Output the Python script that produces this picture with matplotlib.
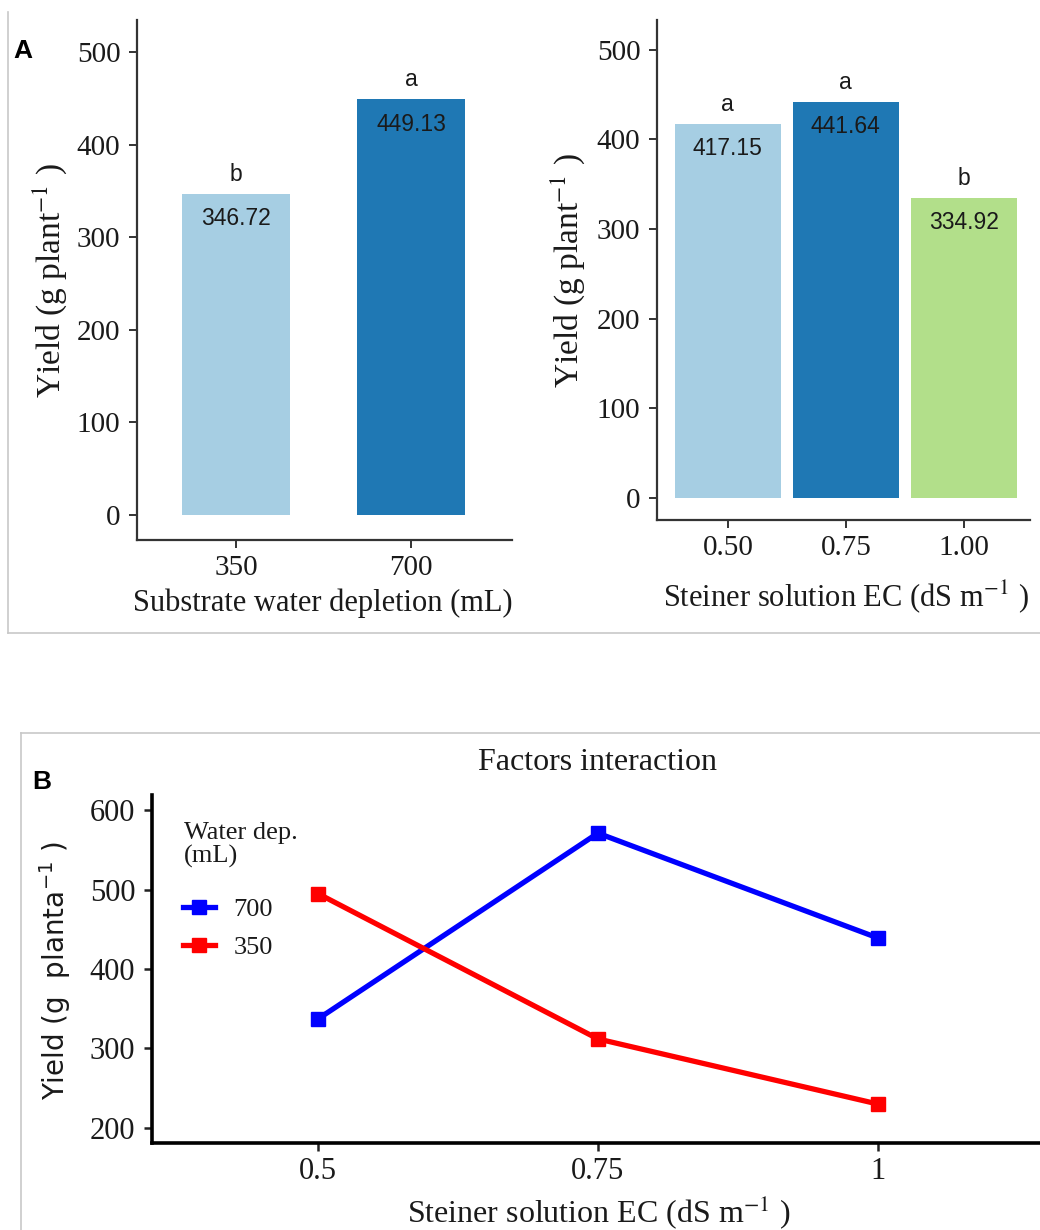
import matplotlib
matplotlib.use("Agg")
import matplotlib.pyplot as plt
from matplotlib.lines import Line2D
import numpy as np

# ---------------- data ----------------
water_cats = ["350", "700"]
water_yield = [346.72, 449.13]
water_letters = ["b", "a"]

ec_cats = ["0.50", "0.75", "1.00"]
ec_yield = [417.15, 441.64, 334.92]
ec_letters = ["a", "a", "b"]

inter_ec = [0.5, 0.75, 1.0]
inter_ec_labels = ["0.5", "0.75", "1"]
inter_700 = [337, 571, 439]
inter_350 = [495, 312, 230]

# ---------------- figure ----------------
W, H = 1040, 1230
fig = plt.figure(figsize=(W / 100, H / 100), dpi=100)
fig.patch.set_facecolor("white")

SERIF = "Liberation Serif"
SANS = "Liberation Sans"


def rect(l, t, r, b):
    return [l / W, 1 - b / H, (r - l) / W, (b - t) / H]


def fx(x):
    return x / W


def fy(y):
    return 1 - y / H


# panel borders (light gray)
gray = "#c8c8c8"
fig.add_artist(Line2D([fx(8), fx(8)], [fy(12), fy(633)], color=gray, lw=1.2))
fig.add_artist(Line2D([fx(8), fx(1040)], [fy(633), fy(633)], color=gray, lw=1.2))
fig.add_artist(Line2D([fx(21), fx(21)], [fy(733), fy(1230)], color=gray, lw=1.2))
fig.add_artist(Line2D([fx(21), fx(1040)], [fy(733), fy(733)], color=gray, lw=1.2))

bar_colors = ["#a6cee3", "#1f78b4", "#b2df8a"]


def style_bar_axes(ax):
    for s in ["top", "right"]:
        ax.spines[s].set_visible(False)
    for s in ["left", "bottom"]:
        ax.spines[s].set_color("#333333")
        ax.spines[s].set_linewidth(1.6)
    ax.tick_params(axis="both", direction="out", length=6, width=1.4, color="#333333",
                   labelsize=21, labelcolor="#1a1a1a")
    ax.tick_params(axis="y", pad=6)
    ax.tick_params(axis="x", pad=5)
    ax.set_yticks([0, 100, 200, 300, 400, 500])
    for lab in ax.get_xticklabels() + ax.get_yticklabels():
        lab.set_family(SERIF)


def annotate_bars(ax, xs, vals, letters):
    for x, v, l in zip(xs, vals, letters):
        ax.annotate(f"{v:.2f}", (x, v), xytext=(0, -18), textcoords="offset points",
                    ha="center", va="center", fontsize=16.5, family=SANS, color="#1a1a1a")
        ax.annotate(l, (x, v), xytext=(0, 14), textcoords="offset points",
                    ha="center", va="center", fontsize=16.5, family=SANS, color="#1a1a1a")


# ---- Panel A left ----
ax1 = fig.add_axes(rect(137, 20, 512, 540))
x1 = np.arange(len(water_cats))
ax1.bar(x1, water_yield, width=0.62, color=bar_colors[:2])
ax1.set_xlim(-0.566, 1.577)
ax1.set_ylim(-27, 534.5)
ax1.set_xticks(x1)
ax1.set_xticklabels(water_cats)
style_bar_axes(ax1)
annotate_bars(ax1, x1, water_yield, water_letters)

# ---- Panel A right ----
ax2 = fig.add_axes(rect(657, 20, 1030, 520))
x2 = np.arange(len(ec_cats))
ax2.bar(x2, ec_yield, width=0.9, color=bar_colors)
ax2.set_xlim(-0.6, 2.56)
ax2.set_ylim(-24.5, 533)
ax2.set_xticks(x2)
ax2.set_xticklabels(ec_cats)
style_bar_axes(ax2)
annotate_bars(ax2, x2, ec_yield, ec_letters)

# labels panel A
fig.text(fx(50), fy(280), r"Yield (g plant$^{-1}$ )", rotation=90, ha="center", va="center",
         fontsize=24, family=SERIF, math_fontfamily="stix", color="#1a1a1a")
fig.text(fx(568), fy(270), r"Yield (g plant$^{-1}$ )", rotation=90, ha="center", va="center",
         fontsize=24, family=SERIF, math_fontfamily="stix", color="#1a1a1a")
fig.text(fx(323), fy(603), "Substrate water depletion (mL)", ha="center", va="center",
         fontsize=22, family=SERIF, color="#1a1a1a")
fig.text(fx(846), fy(597), r"Steiner solution EC (dS m$^{-1}$ )", ha="center", va="center",
         fontsize=22, family=SERIF, math_fontfamily="stix", color="#1a1a1a")
fig.text(fx(23), fy(51), "A", ha="center", va="center", fontsize=19, family=SANS,
         fontweight="bold", color="black")

# ---- Panel B ----
ax3 = fig.add_axes(rect(152, 795, 1040, 1143))
ax3.plot(inter_ec, inter_700, color="#0000ff", lw=3.8, marker="s", markersize=10,
         label="700", solid_joinstyle="miter")
ax3.plot(inter_ec, inter_350, color="#ff0000", lw=3.8, marker="s", markersize=10,
         label="350", solid_joinstyle="miter")
ax3.set_xlim(0.352, 1.1446)
ax3.set_ylim(181, 619)
ax3.set_xticks(inter_ec)
ax3.set_xticklabels(inter_ec_labels)
ax3.set_yticks([200, 300, 400, 500, 600])
for s in ["top", "right"]:
    ax3.spines[s].set_visible(False)
for s in ["left", "bottom"]:
    ax3.spines[s].set_color("black")
    ax3.spines[s].set_linewidth(2.6)
ax3.tick_params(axis="both", direction="out", length=6, width=1.8, color="#222222",
                labelsize=22, labelcolor="#1a1a1a")
ax3.tick_params(axis="y", pad=6)
ax3.tick_params(axis="x", pad=4)
for lab in ax3.get_xticklabels() + ax3.get_yticklabels():
    lab.set_family(SERIF)

leg = ax3.legend(loc="upper left",
                 bbox_to_anchor=(fx(178), fy(892)), bbox_transform=fig.transFigure,
                 frameon=False, handlelength=1.2, handletextpad=0.7, labelspacing=0.55,
                 borderpad=0.2, borderaxespad=0,
                 prop={"family": SERIF, "size": 19})
for t in leg.get_texts():
    t.set_color("#1a1a1a")
fig.text(fx(184), fy(845), "Water dep.\n(mL)", ha="left", va="center", fontsize=19,
         family=SERIF, color="#1a1a1a", linespacing=1.05)

fig.text(fx(598), fy(762), "Factors interaction", ha="center", va="center",
         fontsize=23, family=SERIF, color="#1a1a1a")
fig.text(fx(55), fy(971), r"Yield (g  planta$^{-1}$ )", rotation=90, ha="center", va="center",
         fontsize=20, family="DejaVu Sans", math_fontfamily="dejavusans", color="#1a1a1a")
fig.text(fx(599), fy(1212), r"Steiner solution EC (dS m$^{-1}$ )", ha="center", va="center",
         fontsize=23, family=SERIF, math_fontfamily="stix", color="#1a1a1a")
fig.text(fx(42), fy(782), "B", ha="center", va="center", fontsize=19, family=SANS,
         fontweight="bold", color="black")

fig.savefig("out.png", dpi=100, facecolor="white")
